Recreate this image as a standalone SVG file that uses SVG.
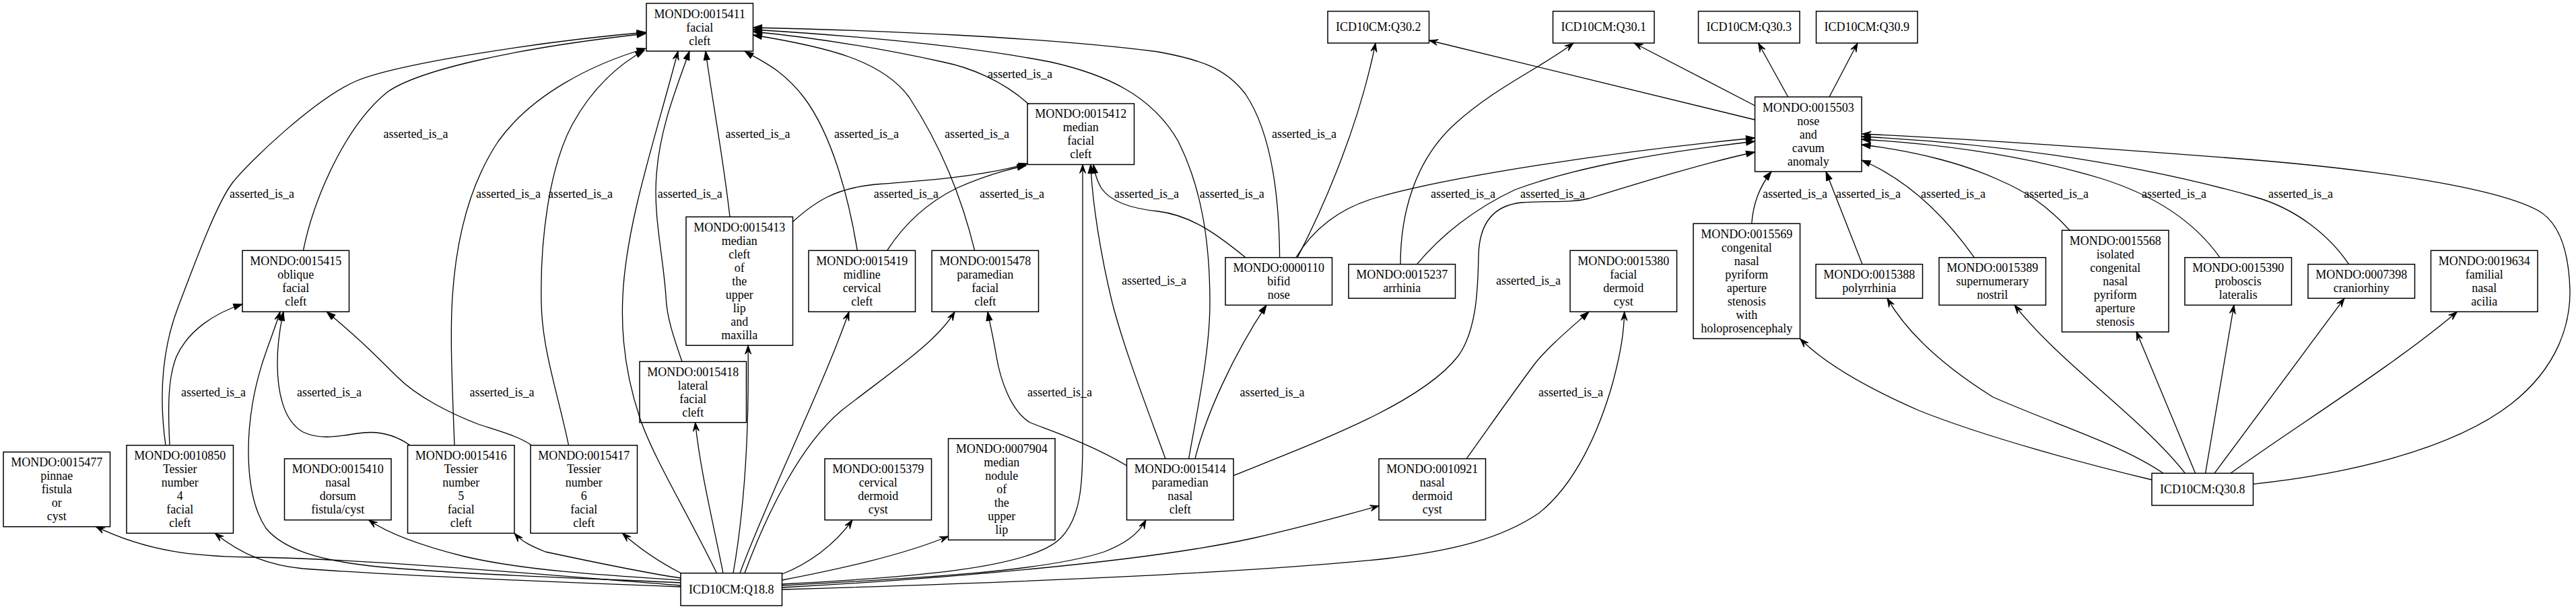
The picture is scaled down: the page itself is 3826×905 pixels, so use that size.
<svg xmlns="http://www.w3.org/2000/svg" width="3826" height="905" viewBox="0 0 3826 905">
<style>
text{font-family:"Liberation Serif","Times New Roman",serif;font-size:18px;text-anchor:middle;fill:#000}
.node rect{fill:none;stroke:#000;stroke-width:1.5}
.edge path{fill:none;stroke:#000;stroke-width:1.3}
.f{marker-end:url(#af)}
.v{marker-end:url(#av)}
</style>
<defs>
<marker id="af" viewBox="-14 -6 15 12" refX="0" refY="0" markerWidth="15" markerHeight="12" orient="auto" markerUnits="userSpaceOnUse"><path d="M0,0 L-13,-4.5 L-13,4.5 Z" fill="#000" stroke="#000" stroke-width="1"/></marker>
<marker id="av" viewBox="-14 -6 15 12" refX="0" refY="0" markerWidth="15" markerHeight="12" orient="auto" markerUnits="userSpaceOnUse"><path d="M0,0 L-13,-4.5 L-8,0 L-13,4.5 Z" fill="#000" stroke="#000" stroke-width="1"/></marker>
</defs>
<rect x="0" y="0" width="3826" height="905" fill="#fff"/>
<g id="connectors">
<g class="edge" id="e1"><path class="f" d="M450.4,372.3 C465,300 510,190 575,137 C620,105 760,72 959,50"/><text x="617.6" y="205">asserted_is_a</text></g>
<g class="edge" id="e2"><path class="f" d="M246,661.7 C236,590 240,520 265,455 C285,403 320,305 345,272 C370,240 470,145 530,120 C590,95 800,62 959,48"/><text x="389" y="294.3">asserted_is_a</text></g>
<g class="edge" id="e3"><path class="f" d="M675,661.7 C672,580 668,500 672,440 C678,350 700,270 740,210 C790,140 880,95 959,72"/><text x="755" y="294.3">asserted_is_a</text></g>
<g class="edge" id="e4"><path class="f" d="M844.5,661.7 C830,590 805,520 804,450 C802,360 815,250 850,185 C880,130 920,95 957,75"/><text x="862" y="294.3">asserted_is_a</text></g>
<g class="edge" id="e5"><path class="v" d="M1064.5,851.7 C1020,760 970,680 950,620 C930,560 922,500 925,440 C930,330 975,200 1007,76"/></g>
<g class="edge" id="e6"><path class="f" d="M1013,537.3 C1000,500 990,470 989,440 C985,380 970,320 975,260 C980,190 1005,130 1024,76"/><text x="1024.7" y="294.3">asserted_is_a</text></g>
<g class="edge" id="e7"><path class="f" d="M1084,322.3 C1075,240 1058,150 1048,76"/><text x="1125.4" y="205">asserted_is_a</text></g>
<g class="edge" id="e8"><path class="f" d="M1273.3,372.3 C1260,290 1235,200 1195,146 C1160,100 1125,88 1106,76"/><text x="1287" y="205">asserted_is_a</text></g>
<g class="edge" id="e9"><path class="f" d="M1447.6,372.3 C1430,300 1400,220 1350,144 C1310,90 1230,70 1118.5,52"/><text x="1451" y="205">asserted_is_a</text></g>
<g class="edge" id="e10"><path class="f" d="M1528,155 C1490,120 1440,100 1400,92 C1300,70 1200,55 1118.5,47"/><text x="1515" y="116">asserted_is_a</text></g>
<g class="edge" id="e11"><path class="f" d="M1765.6,681.7 C1780,600 1797,520 1797,450 C1797,360 1785,280 1750,210 C1710,140 1640,110 1560,92 C1420,65 1250,52 1118.5,44"/><text x="1829.7" y="294.3">asserted_is_a</text></g>
<g class="edge" id="e12"><path class="f" d="M1900.6,382.7 C1900,300 1890,200 1850,140 C1820,100 1780,88 1720,77 C1550,55 1300,45 1118.5,41"/><text x="1937" y="205">asserted_is_a</text></g>
<g class="edge" id="e13"><path class="f" d="M252,661.7 C249,600 250,560 262,530 C280,490 320,465 360,452"/><text x="317" y="588.7">asserted_is_a</text></g>
<g class="edge" id="e14"><path class="f" d="M609,661.7 C585,645 560,641 540,643 C510,646 480,656 450,642 C420,625 412,580 412,540 C412,510 416,485 421,463.3"/><text x="489" y="588.7">asserted_is_a</text></g>
<g class="edge" id="e15"><path class="f" d="M789.5,661.7 C770,648 740,640 712,631 C670,615 620,590 590,560 C560,530 530,500 485,463.3"/><text x="745.5" y="588.7">asserted_is_a</text></g>
<g class="edge" id="e16"><path class="v" d="M1011,866 C900,860 700,855 560,842 C470,833 420,815 395,785 C365,740 365,660 375,600 C385,540 405,500 416,463.3"/></g>
<g class="edge" id="e17"><path class="v" d="M1011,870 C850,858 550,830 370,828 C290,827 220,820 142.4,782.7"/></g>
<g class="edge" id="e18"><path class="v" d="M1011,872 C850,866 600,856 450,845 C400,840 360,825 319.3,792.4"/></g>
<g class="edge" id="e19"><path class="v" d="M1011,862 C900,855 780,848 690,827 C630,812 580,795 547.6,772.7"/></g>
<g class="edge" id="e20"><path class="v" d="M1011,859 C950,850 880,835 810,820 C790,812 775,805 764,792.4"/></g>
<g class="edge" id="e21"><path class="v" d="M1012,852 C985,838 955,820 924.5,792.4"/></g>
<g class="edge" id="e22"><path class="v" d="M1074,851.7 C1060,780 1040,700 1032.6,627.8"/></g>
<g class="edge" id="e23"><path class="v" d="M1089,851.7 C1105,760 1113,650 1111,513.3"/></g>
<g class="edge" id="e24"><path class="v" d="M1099,851.7 C1140,740 1220,580 1261,463.3"/></g>
<g class="edge" id="e25"><path class="v" d="M1106,851.7 C1140,760 1190,660 1250,610 C1320,555 1390,510 1418,463.3"/></g>
<g class="edge" id="e26"><path class="v" d="M1162,868 C1350,858 1530,845 1575,800 C1605,770 1608,720 1608,660 C1608,520 1608,350 1608,244.5"/></g>
<g class="edge" id="e27"><path class="v" d="M1161.8,853 C1200,838 1240,810 1266,772.7"/></g>
<g class="edge" id="e28"><path class="v" d="M1162,862 C1250,845 1340,825 1408.5,797"/></g>
<g class="edge" id="e29"><path class="v" d="M1162,870 C1350,860 1550,850 1640,820 C1670,808 1690,795 1702,772.7"/></g>
<g class="edge" id="e30"><path class="v" d="M1162,873 C1400,860 1700,835 1860,800 C1940,782 2000,765 2048,751.7"/></g>
<g class="edge" id="e31"><path class="v" d="M1162,876 C1500,866 1850,852 2060,830 C2160,818 2230,800 2285,763 C2340,720 2375,640 2395,570 C2407,525 2412,495 2412.6,463.3"/></g>
<g class="edge" id="e32"><path class="f" d="M1177,330 C1210,300 1240,280 1300,274 C1380,268 1460,262 1526,243"/><text x="1345.7" y="294.3">asserted_is_a</text></g>
<g class="edge" id="e33"><path class="f" d="M1317.5,372.3 C1345,330 1380,300 1420,280 C1460,262 1495,252 1524,246"/><text x="1503" y="294.3">asserted_is_a</text></g>
<g class="edge" id="e34"><path class="f" d="M1731,681.7 C1705,610 1670,520 1652,450 C1635,380 1622,300 1620,244.5"/><text x="1714" y="423.3">asserted_is_a</text></g>
<g class="edge" id="e35"><path class="f" d="M1850,382.7 C1810,350 1770,320 1720,314 C1680,310 1650,300 1636,280 C1630,270 1626,258 1624,244.5"/><text x="1703" y="294.3">asserted_is_a</text></g>
<g class="edge" id="e36"><path class="f" d="M1673.5,692 C1620,660 1560,640 1530,628 C1500,610 1485,560 1480,530 C1475,500 1470,480 1467,463.3"/><text x="1574" y="588.7">asserted_is_a</text></g>
<g class="edge" id="e37"><path class="f" d="M1775,681.7 C1790,620 1830,530 1881,453.4"/><text x="1889.6" y="588.7">asserted_is_a</text></g>
<g class="edge" id="e38"><path class="f" d="M1832,706.7 C1960,655 2110,600 2165,530 C2195,490 2195,420 2196,380 C2197,330 2220,305 2260,301 C2300,298 2330,302 2360,295 C2440,270 2540,240 2606.5,226"/><text x="2270" y="423.3">asserted_is_a</text></g>
<g class="edge" id="e39"><path class="f" d="M1925,382.7 C1950,340 1990,310 2040,295 C2150,262 2400,225 2606.5,205"/><text x="2173" y="294.3">asserted_is_a</text></g>
<g class="edge" id="e40"><path class="v" d="M1927,382.7 C1970,300 2020,180 2043,64"/></g>
<g class="edge" id="e41"><path class="f" d="M2104.5,392.7 C2140,350 2190,310 2250,282 C2350,245 2480,225 2606.5,210"/><text x="2306" y="294.3">asserted_is_a</text></g>
<g class="edge" id="e42"><path class="v" d="M2080,392.7 C2080,320 2100,240 2160,185 C2220,130 2290,100 2337,64"/></g>
<g class="edge" id="e43"><path class="v" d="M2606.5,178 L2122.6,60"/></g>
<g class="edge" id="e44"><path class="v" d="M2606.5,157 L2427,64"/></g>
<g class="edge" id="e45"><path class="v" d="M2655.7,144 L2611.5,64"/></g>
<g class="edge" id="e46"><path class="v" d="M2717,144 L2759,64"/></g>
<g class="edge" id="e47"><path class="f" d="M2601.7,332.3 C2604,300 2615,275 2631,255"/><text x="2666" y="294.3">asserted_is_a</text></g>
<g class="edge" id="e48"><path class="f" d="M2766,392.7 L2712,255"/><text x="2775" y="294.3">asserted_is_a</text></g>
<g class="edge" id="e49"><path class="f" d="M2932.3,382.7 C2895,330 2840,270 2765,238"/><text x="2901" y="294.3">asserted_is_a</text></g>
<g class="edge" id="e50"><path class="f" d="M3074,342.3 C3040,305 3010,285 2968,267 C2920,245 2850,225 2765,215"/><text x="3054" y="294.3">asserted_is_a</text></g>
<g class="edge" id="e51"><path class="f" d="M3297,382.7 C3260,330 3200,290 3120,265 C3020,235 2900,215 2765,207"/><text x="3229" y="294.3">asserted_is_a</text></g>
<g class="edge" id="e52"><path class="f" d="M3488.6,392.7 C3460,350 3410,310 3350,293 C3200,250 3000,215 2765,203"/><text x="3417" y="294.3">asserted_is_a</text></g>
<g class="edge" id="e53"><path class="v" d="M3346.3,719.3 C3480,705 3640,670 3730,600 C3800,545 3818,480 3817,430 C3815,370 3800,330 3770,313 C3700,275 3500,250 3340,237 C3150,222 2950,208 2766,199"/></g>
<g class="edge" id="e54"><path class="v" d="M3196,713 C3100,690 2950,650 2850,610 C2770,575 2710,540 2673.5,503.3"/></g>
<g class="edge" id="e55"><path class="v" d="M3213,703.3 C3150,660 3050,630 2960,590 C2880,540 2830,490 2803,443.3"/></g>
<g class="edge" id="e56"><path class="v" d="M3245.5,703.3 C3180,620 3060,540 2992,453.3"/></g>
<g class="edge" id="e57"><path class="v" d="M3260.6,703.3 L3173,492.7"/></g>
<g class="edge" id="e58"><path class="v" d="M3275.6,703.3 L3318,453.3"/></g>
<g class="edge" id="e59"><path class="v" d="M3289,703.3 L3482,443.3"/></g>
<g class="edge" id="e60"><path class="v" d="M3313,703.3 C3400,640 3560,540 3649.5,463.3"/></g>
<g class="edge" id="e61"><path class="f" d="M2178,681.7 C2215,630 2250,580 2280,540 C2300,515 2330,490 2360,463.3"/><text x="2333" y="588.7">asserted_is_a</text></g>
</g>
<g id="nodes">
<g class="node" id="MONDO_0015411"><rect x="960" y="5" width="158.5" height="71"/><text x="1039.25" y="26.5"><tspan x="1039.25">MONDO:0015411</tspan><tspan x="1039.25" dy="20">facial</tspan><tspan x="1039.25" dy="20">cleft</tspan></text></g>
<g class="node" id="ICD10CM_Q30.2"><rect x="1972" y="16.7" width="150.5" height="47.3"/><text x="2047.25" y="46.3">ICD10CM:Q30.2</text></g>
<g class="node" id="ICD10CM_Q30.1"><rect x="2306.5" y="16.7" width="150.5" height="47.3"/><text x="2381.75" y="46.3">ICD10CM:Q30.1</text></g>
<g class="node" id="ICD10CM_Q30.3"><rect x="2522.5" y="16.7" width="150.5" height="47.3"/><text x="2597.75" y="46.3">ICD10CM:Q30.3</text></g>
<g class="node" id="ICD10CM_Q30.9"><rect x="2697.5" y="16.7" width="150.5" height="47.3"/><text x="2772.75" y="46.3">ICD10CM:Q30.9</text></g>
<g class="node" id="MONDO_0015412"><rect x="1526" y="154" width="158.5" height="90.5"/><text x="1605.25" y="175.25"><tspan x="1605.25">MONDO:0015412</tspan><tspan x="1605.25" dy="20">median</tspan><tspan x="1605.25" dy="20">facial</tspan><tspan x="1605.25" dy="20">cleft</tspan></text></g>
<g class="node" id="MONDO_0015503"><rect x="2606.5" y="144" width="158.5" height="111"/><text x="2685.75" y="165.5"><tspan x="2685.75">MONDO:0015503</tspan><tspan x="2685.75" dy="20">nose</tspan><tspan x="2685.75" dy="20">and</tspan><tspan x="2685.75" dy="20">cavum</tspan><tspan x="2685.75" dy="20">anomaly</tspan></text></g>
<g class="node" id="MONDO_0015415"><rect x="360" y="372.3" width="158.5" height="91"/><text x="439.25" y="393.8"><tspan x="439.25">MONDO:0015415</tspan><tspan x="439.25" dy="20">oblique</tspan><tspan x="439.25" dy="20">facial</tspan><tspan x="439.25" dy="20">cleft</tspan></text></g>
<g class="node" id="MONDO_0015413"><rect x="1019" y="322.3" width="158.5" height="191"/><text x="1098.25" y="343.8"><tspan x="1098.25">MONDO:0015413</tspan><tspan x="1098.25" dy="20">median</tspan><tspan x="1098.25" dy="20">cleft</tspan><tspan x="1098.25" dy="20">of</tspan><tspan x="1098.25" dy="20">the</tspan><tspan x="1098.25" dy="20">upper</tspan><tspan x="1098.25" dy="20">lip</tspan><tspan x="1098.25" dy="20">and</tspan><tspan x="1098.25" dy="20">maxilla</tspan></text></g>
<g class="node" id="MONDO_0015419"><rect x="1201" y="372.3" width="158.5" height="91"/><text x="1280.25" y="393.8"><tspan x="1280.25">MONDO:0015419</tspan><tspan x="1280.25" dy="20">midline</tspan><tspan x="1280.25" dy="20">cervical</tspan><tspan x="1280.25" dy="20">cleft</tspan></text></g>
<g class="node" id="MONDO_0015478"><rect x="1384" y="372.3" width="158.5" height="91"/><text x="1463.25" y="393.8"><tspan x="1463.25">MONDO:0015478</tspan><tspan x="1463.25" dy="20">paramedian</tspan><tspan x="1463.25" dy="20">facial</tspan><tspan x="1463.25" dy="20">cleft</tspan></text></g>
<g class="node" id="MONDO_0000110"><rect x="1820" y="382.7" width="158.5" height="70.7"/><text x="1899.25" y="404"><tspan x="1899.25">MONDO:0000110</tspan><tspan x="1899.25" dy="20">bifid</tspan><tspan x="1899.25" dy="20">nose</tspan></text></g>
<g class="node" id="MONDO_0015237"><rect x="2003" y="392.7" width="158.5" height="50.6"/><text x="2082.25" y="414"><tspan x="2082.25">MONDO:0015237</tspan><tspan x="2082.25" dy="20">arrhinia</tspan></text></g>
<g class="node" id="MONDO_0015380"><rect x="2332" y="372.3" width="158.5" height="91"/><text x="2411.25" y="393.8"><tspan x="2411.25">MONDO:0015380</tspan><tspan x="2411.25" dy="20">facial</tspan><tspan x="2411.25" dy="20">dermoid</tspan><tspan x="2411.25" dy="20">cyst</tspan></text></g>
<g class="node" id="MONDO_0015569"><rect x="2515" y="332.3" width="158.5" height="171"/><text x="2594.25" y="353.8"><tspan x="2594.25">MONDO:0015569</tspan><tspan x="2594.25" dy="20">congenital</tspan><tspan x="2594.25" dy="20">nasal</tspan><tspan x="2594.25" dy="20">pyriform</tspan><tspan x="2594.25" dy="20">aperture</tspan><tspan x="2594.25" dy="20">stenosis</tspan><tspan x="2594.25" dy="20">with</tspan><tspan x="2594.25" dy="20">holoprosencephaly</tspan></text></g>
<g class="node" id="MONDO_0015388"><rect x="2697" y="392.7" width="158.5" height="50.6"/><text x="2776.25" y="414"><tspan x="2776.25">MONDO:0015388</tspan><tspan x="2776.25" dy="20">polyrrhinia</tspan></text></g>
<g class="node" id="MONDO_0015389"><rect x="2880" y="382.7" width="158.5" height="70.7"/><text x="2959.25" y="404"><tspan x="2959.25">MONDO:0015389</tspan><tspan x="2959.25" dy="20">supernumerary</tspan><tspan x="2959.25" dy="20">nostril</tspan></text></g>
<g class="node" id="MONDO_0015568"><rect x="3062.5" y="342.3" width="158.5" height="151"/><text x="3141.75" y="363.8"><tspan x="3141.75">MONDO:0015568</tspan><tspan x="3141.75" dy="20">isolated</tspan><tspan x="3141.75" dy="20">congenital</tspan><tspan x="3141.75" dy="20">nasal</tspan><tspan x="3141.75" dy="20">pyriform</tspan><tspan x="3141.75" dy="20">aperture</tspan><tspan x="3141.75" dy="20">stenosis</tspan></text></g>
<g class="node" id="MONDO_0015390"><rect x="3245" y="382.7" width="158.5" height="70.7"/><text x="3324.25" y="404"><tspan x="3324.25">MONDO:0015390</tspan><tspan x="3324.25" dy="20">proboscis</tspan><tspan x="3324.25" dy="20">lateralis</tspan></text></g>
<g class="node" id="MONDO_0007398"><rect x="3428" y="392.7" width="158.5" height="50.6"/><text x="3507.25" y="414"><tspan x="3507.25">MONDO:0007398</tspan><tspan x="3507.25" dy="20">craniorhiny</tspan></text></g>
<g class="node" id="MONDO_0019634"><rect x="3610.5" y="372.3" width="158.5" height="91"/><text x="3689.75" y="393.8"><tspan x="3689.75">MONDO:0019634</tspan><tspan x="3689.75" dy="20">familial</tspan><tspan x="3689.75" dy="20">nasal</tspan><tspan x="3689.75" dy="20">acilia</tspan></text></g>
<g class="node" id="MONDO_0015418"><rect x="950" y="537.3" width="158.5" height="90.5"/><text x="1029.25" y="558.5"><tspan x="1029.25">MONDO:0015418</tspan><tspan x="1029.25" dy="20">lateral</tspan><tspan x="1029.25" dy="20">facial</tspan><tspan x="1029.25" dy="20">cleft</tspan></text></g>
<g class="node" id="MONDO_0015477"><rect x="5" y="671.7" width="158.5" height="111"/><text x="84.25" y="693.2"><tspan x="84.25">MONDO:0015477</tspan><tspan x="84.25" dy="20">pinnae</tspan><tspan x="84.25" dy="20">fistula</tspan><tspan x="84.25" dy="20">or</tspan><tspan x="84.25" dy="20">cyst</tspan></text></g>
<g class="node" id="MONDO_0010850"><rect x="188" y="661.7" width="158.5" height="130.7"/><text x="267.25" y="683"><tspan x="267.25">MONDO:0010850</tspan><tspan x="267.25" dy="20">Tessier</tspan><tspan x="267.25" dy="20">number</tspan><tspan x="267.25" dy="20">4</tspan><tspan x="267.25" dy="20">facial</tspan><tspan x="267.25" dy="20">cleft</tspan></text></g>
<g class="node" id="MONDO_0015410"><rect x="422.5" y="681.7" width="158.5" height="91"/><text x="501.75" y="703.2"><tspan x="501.75">MONDO:0015410</tspan><tspan x="501.75" dy="20">nasal</tspan><tspan x="501.75" dy="20">dorsum</tspan><tspan x="501.75" dy="20">fistula/cyst</tspan></text></g>
<g class="node" id="MONDO_0015416"><rect x="605.5" y="661.7" width="158.5" height="130.7"/><text x="684.75" y="683"><tspan x="684.75">MONDO:0015416</tspan><tspan x="684.75" dy="20">Tessier</tspan><tspan x="684.75" dy="20">number</tspan><tspan x="684.75" dy="20">5</tspan><tspan x="684.75" dy="20">facial</tspan><tspan x="684.75" dy="20">cleft</tspan></text></g>
<g class="node" id="MONDO_0015417"><rect x="788" y="661.7" width="158.5" height="130.7"/><text x="867.25" y="683"><tspan x="867.25">MONDO:0015417</tspan><tspan x="867.25" dy="20">Tessier</tspan><tspan x="867.25" dy="20">number</tspan><tspan x="867.25" dy="20">6</tspan><tspan x="867.25" dy="20">facial</tspan><tspan x="867.25" dy="20">cleft</tspan></text></g>
<g class="node" id="MONDO_0015379"><rect x="1225" y="681.7" width="158.5" height="91"/><text x="1304.25" y="703.2"><tspan x="1304.25">MONDO:0015379</tspan><tspan x="1304.25" dy="20">cervical</tspan><tspan x="1304.25" dy="20">dermoid</tspan><tspan x="1304.25" dy="20">cyst</tspan></text></g>
<g class="node" id="MONDO_0007904"><rect x="1408.5" y="651.7" width="158.5" height="150.7"/><text x="1487.75" y="673"><tspan x="1487.75">MONDO:0007904</tspan><tspan x="1487.75" dy="20">median</tspan><tspan x="1487.75" dy="20">nodule</tspan><tspan x="1487.75" dy="20">of</tspan><tspan x="1487.75" dy="20">the</tspan><tspan x="1487.75" dy="20">upper</tspan><tspan x="1487.75" dy="20">lip</tspan></text></g>
<g class="node" id="MONDO_0015414"><rect x="1673.5" y="681.7" width="158.5" height="91"/><text x="1752.75" y="703.2"><tspan x="1752.75">MONDO:0015414</tspan><tspan x="1752.75" dy="20">paramedian</tspan><tspan x="1752.75" dy="20">nasal</tspan><tspan x="1752.75" dy="20">cleft</tspan></text></g>
<g class="node" id="MONDO_0010921"><rect x="2048" y="681.7" width="158.5" height="91"/><text x="2127.25" y="703.2"><tspan x="2127.25">MONDO:0010921</tspan><tspan x="2127.25" dy="20">nasal</tspan><tspan x="2127.25" dy="20">dermoid</tspan><tspan x="2127.25" dy="20">cyst</tspan></text></g>
<g class="node" id="ICD10CM_Q30.8"><rect x="3196" y="703.3" width="150.5" height="47.7"/><text x="3271.25" y="733.2">ICD10CM:Q30.8</text></g>
<g class="node" id="ICD10CM_Q18.8"><rect x="1011" y="851.7" width="150.5" height="48.3"/><text x="1086.25" y="881.9">ICD10CM:Q18.8</text></g>
</g>
</svg>
